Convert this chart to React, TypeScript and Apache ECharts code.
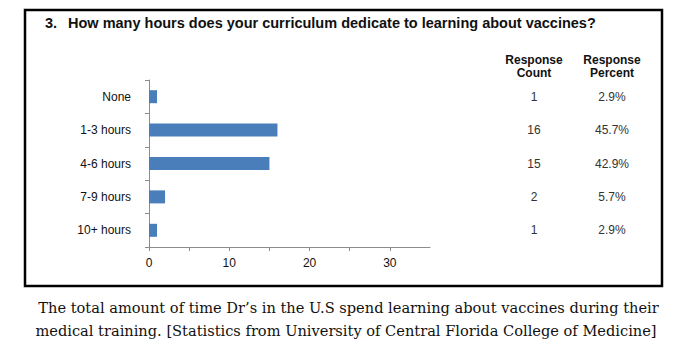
import React, { useEffect, useRef } from "react";
import * as echarts from "echarts";

const categories = ["None", "1-3 hours", "4-6 hours", "7-9 hours", "10+ hours"];
const counts = [1, 16, 15, 2, 1];
const percents = ["2.9%", "45.7%", "42.9%", "5.7%", "2.9%"];
const xTicks = [0, 10, 20, 30];

const titleText = "3.";
const questionText = "How many hours does your curriculum dedicate to learning about vaccines?";
const captionLine1 = "The total amount of time Dr\u2019s in the U.S spend learning about vaccines during their";
const captionLine2 = "medical training. [Statistics from University of Central Florida College of Medicine]";

export default function App() {
  const ref = useRef<HTMLDivElement>(null);
  useEffect(() => {
    if (!ref.current) return;
    const chart = echarts.init(ref.current, null, { renderer: "svg" });
    const font = "Arial, 'Liberation Sans', sans-serif";
    const serif = "'DejaVu Serif', 'Liberation Serif', serif";
    chart.setOption({
      animation: false,
      backgroundColor: "#ffffff",
      grid: { left: 149, top: 80, width: 281, height: 167 },
      xAxis: {
        type: "value",
        min: 0,
        max: 35,
        interval: 5,
        axisLine: { show: true, lineStyle: { color: "#8c8c8c", width: 1 } },
        axisTick: { show: true, length: 4, lineStyle: { color: "#8c8c8c" } },
        splitLine: { show: false },
        axisLabel: {
          margin: 10,
          fontFamily: font,
          fontSize: 12,
          color: "#111",
          showMaxLabel: false,
          formatter: (v: number) => (xTicks.includes(v) ? String(v) : ""),
        },
      },
      yAxis: [
        {
          type: "category",
          data: categories,
          inverse: true,
          axisLine: { show: true, lineStyle: { color: "#8c8c8c", width: 1 } },
          axisTick: { show: true, length: 4, lineStyle: { color: "#8c8c8c" } },
          axisLabel: { margin: 18, fontFamily: font, fontSize: 12, color: "#111" },
        },
        {
          type: "category",
          data: categories,
          inverse: true,
          position: "right",
          axisLine: { show: false },
          axisTick: { show: false },
          axisLabel: {
            margin: 104,
            align: "center",
            fontFamily: font,
            fontSize: 12,
            color: "#333",
            formatter: (_: string, i: number) => String(counts[i]),
          },
        },
        {
          type: "category",
          data: categories,
          inverse: true,
          position: "right",
          axisLine: { show: false },
          axisTick: { show: false },
          axisLabel: {
            margin: 182,
            align: "center",
            fontFamily: font,
            fontSize: 12,
            color: "#333",
            formatter: (_: string, i: number) => percents[i],
          },
        },
      ],
      series: [
        {
          type: "bar",
          data: counts,
          barWidth: 13,
          itemStyle: { color: "#4a7ebb" },
        },
      ],
      graphic: [
        {
          type: "rect",
          shape: { x: 25, y: 10, width: 637, height: 276 },
          style: { fill: "none", stroke: "#000", lineWidth: 2.5 },
        },
        {
          type: "text",
          x: 45,
          y: 23,
          style: {
            text: titleText,
            font: `bold 14.5px ${font}`,
            fill: "#111",
            verticalAlign: "middle",
          },
        },
        {
          type: "text",
          x: 68,
          y: 23,
          style: {
            text: questionText,
            font: `bold 14.5px ${font}`,
            fill: "#111",
            verticalAlign: "middle",
          },
        },
        {
          type: "text",
          x: 534,
          y: 66,
          style: {
            text: "Response\nCount",
            font: `bold 12px ${font}`,
            lineHeight: 13,
            fill: "#111",
            align: "center",
            verticalAlign: "middle",
          },
        },
        {
          type: "text",
          x: 612,
          y: 66,
          style: {
            text: "Response\nPercent",
            font: `bold 12px ${font}`,
            lineHeight: 13,
            fill: "#111",
            align: "center",
            verticalAlign: "middle",
          },
        },
        {
          type: "text",
          x: 348.5,
          y: 307,
          style: {
            text: captionLine1,
            font: `14.6px ${serif}`,
            fill: "#111",
            align: "center",
            verticalAlign: "middle",
          },
        },
        {
          type: "text",
          x: 346,
          y: 330,
          style: {
            text: captionLine2,
            font: `14.6px ${serif}`,
            fill: "#111",
            align: "center",
            verticalAlign: "middle",
          },
        },
      ],
    });
    return () => chart.dispose();
  }, []);
  return (
    <div
      ref={ref}
      style={{ position: "absolute", left: 0, top: 0, width: 687, height: 351, background: "#fff" }}
    />
  );
}
